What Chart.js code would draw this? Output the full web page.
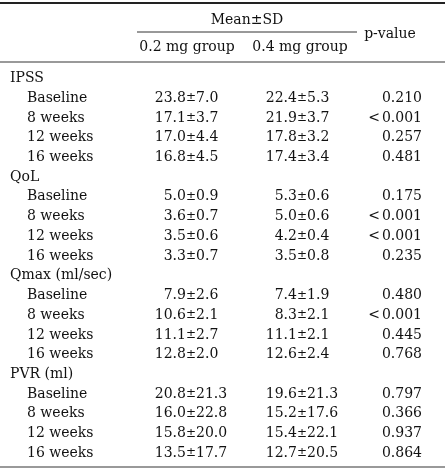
<!DOCTYPE html>
<html>
<head>
<meta charset="utf-8">
<script src="https://cdn.jsdelivr.net/npm/chart.js@4/dist/chart.umd.min.js"></script>
<style>
html,body{margin:0;padding:0;background:#fff;}
#wrap{width:445px;height:470px;position:relative;}
</style>
</head>
<body>
<div id="wrap"><canvas id="c"></canvas></div>
<script>
// ---- data ----
const groups = ["IPSS", "QoL", "Qmax (ml/sec)", "PVR (ml)"];
const timepoints = ["Baseline", "8 weeks", "12 weeks", "16 weeks"];
const mean02 = [23.8, 17.1, 17.0, 16.8, 5.0, 3.6, 3.5, 3.3, 7.9, 10.6, 11.1, 12.8, 20.8, 16.0, 15.8, 13.5];
const sd02   = [7.0, 3.7, 4.4, 4.5, 0.9, 0.7, 0.6, 0.7, 2.6, 2.1, 2.7, 2.0, 21.3, 22.8, 20.0, 17.7];
const mean04 = [22.4, 21.9, 17.8, 17.4, 5.3, 5.0, 4.2, 3.5, 7.4, 8.3, 11.1, 12.6, 19.6, 15.2, 15.4, 12.7];
const sd04   = [5.3, 3.7, 3.2, 3.4, 0.6, 0.6, 0.4, 0.8, 1.9, 2.1, 2.1, 2.4, 21.3, 17.6, 22.1, 20.5];
const pValues = ["0.210", "<0.001", "0.257", "0.481", "0.175", "<0.001", "<0.001", "0.235",
                 "0.480", "<0.001", "0.445", "0.768", "0.797", "0.366", "0.937", "0.864"];
const headerTop = "Mean±SD";
const headerCols = ["0.2 mg group", "0.4 mg group"];
const headerP = "p-value";

// ---- layout (positions in scale units) ----
const L = {
  rowStart: 78.5, rowPitch: 19.72,
  xGroup: 10, xTime: 27, xPm1: 191, xPm2: 302, xP: 422, xLt: 380,
  yTopRule: 3, yMean: 20, ySubRule: 32, ySub: 47, yPv: 34, yHeadRule: 62, yBottomRule: 467,
  subRuleX0: 137, subRuleX1: 357, xMean: 247, xSub1: 187, xSub2: 300, xPv: 390
};
const FONT = '14px "DejaVu Serif"';
const PMFONT = '12px "DejaVu Serif"';
const INK = '#111';

const tablePlugin = {
  id: 'table',
  afterDraw(chart) {
    const ctx = chart.ctx;
    const xs = chart.scales.x, ys = chart.scales.y;
    const X = v => xs.getPixelForValue(v);
    const Y = v => ys.getPixelForValue(v);
    ctx.save();
    const rule = (x0, x1, y, w, col) => {
      ctx.beginPath(); ctx.strokeStyle = col; ctx.lineWidth = w;
      ctx.moveTo(X(x0), Y(y)); ctx.lineTo(X(x1), Y(y)); ctx.stroke();
    };
    rule(0, 445, L.yTopRule, 2, '#222');
    rule(L.subRuleX0, L.subRuleX1, L.ySubRule, 1, '#333');
    rule(0, 445, L.yHeadRule, 2, '#999');
    rule(0, 445, L.yBottomRule, 2, '#999');

    ctx.font = FONT; ctx.fillStyle = INK; ctx.textBaseline = 'middle';
    const txt = (s, x, y, align) => { ctx.textAlign = align; ctx.fillText(s, X(x), Y(y)); };
    txt(headerTop, L.xMean, L.yMean, 'center');
    txt(headerCols[0], L.xSub1, L.ySub, 'center');
    txt(headerCols[1], L.xSub2, L.ySub, 'center');
    txt(headerP, L.xPv, L.yPv, 'center');

    ctx.font = PMFONT;
    const pmW = ctx.measureText('±').width;
    ctx.font = FONT;
    const cell = (m, s, xpm, y) => {
      const px = X(xpm), py = Y(y);
      ctx.textAlign = 'right'; ctx.fillText(m.toFixed(1), px - pmW / 2, py);
      ctx.font = PMFONT; ctx.textAlign = 'center'; ctx.fillText('±', px, py);
      ctx.font = FONT; ctx.textAlign = 'left'; ctx.fillText(s.toFixed(1), px + pmW / 2, py);
    };
    let row = 0, k = 0;
    groups.forEach(g => {
      txt(g, L.xGroup, L.rowStart + row * L.rowPitch, 'left');
      row++;
      timepoints.forEach(t => {
        const y = L.rowStart + row * L.rowPitch;
        txt(t, L.xTime, y, 'left');
        cell(mean02[k], sd02[k], L.xPm1, y);
        cell(mean04[k], sd04[k], L.xPm2, y);
        const p = pValues[k];
        if (p.startsWith('<')) {
          txt(p.slice(1), L.xP, y, 'right');
          txt('<', L.xLt, y, 'right');
        } else {
          txt(p, L.xP, y, 'right');
        }
        row++; k++;
      });
    });
    ctx.restore();
  }
};

new Chart(document.getElementById('c'), {
  type: 'scatter',
  data: { datasets: [{ data: [], pointRadius: 0 }] },
  options: {
    responsive: true, maintainAspectRatio: false, animation: false,
    layout: { padding: 0 },
    plugins: { legend: { display: false }, tooltip: { enabled: false } },
    scales: {
      x: { type: 'linear', min: 0, max: 445, display: false },
      y: { type: 'linear', min: 0, max: 470, reverse: true, display: false }
    }
  },
  plugins: [tablePlugin]
});
</script>
</body>
</html>
